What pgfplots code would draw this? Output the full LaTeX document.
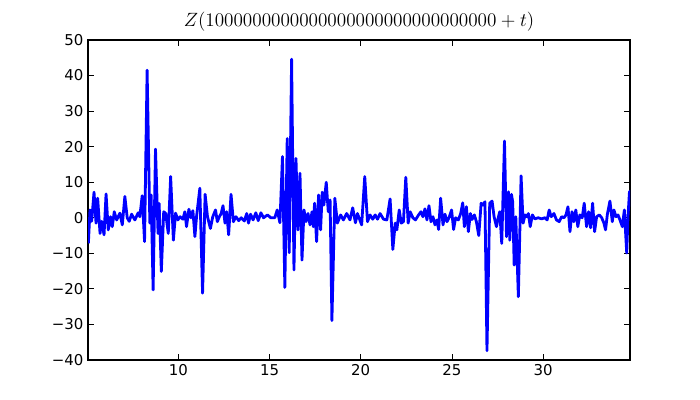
\documentclass[border=0pt]{standalone}
\usepackage{fontspec}
\setmainfont{DejaVu Sans}
\usepackage{pgfplots}
\pgfplotsset{compat=1.18}
\begin{document}
\begin{tikzpicture}
\useasboundingbox (0,0) rectangle (525pt,300pt);
\begin{axis}[
  at={(66pt,30pt)}, anchor=south west,
  scale only axis, width=406.5pt, height=240pt,
  xmin=5.05, xmax=34.76, ymin=-40, ymax=50,
  xtick={10,15,20,25,30},
  ytick={-40,-30,-20,-10,0,10,20,30,40,50},
  yticklabels={−40,−30,−20,−10,0,10,20,30,40,50},
  tick align=inside, major tick length=4.5pt,
  axis line style={line width=0.8pt},
  tick style={black, line width=0.6pt},
  ticklabel style={font=\fontsize{11.2}{13}\selectfont},
  /pgf/number format/assume math mode=true,
  title={$Z(1000000000000000000000000000000+t)$},
  title style={font=\fontsize{14.6}{16}\selectfont, yshift=-3pt},
]
\addplot[blue, line width=2.1pt, line join=round, no markers] coordinates {
(5.07,-7.2)(5.16,2.2)(5.25,-1)(5.38,7.2)(5.49,-1.5)(5.58,5.5)(5.71,-4.4)(5.8,-1)(5.93,-4.8)(6.04,6.7)(6.16,-3.4)(6.29,0.3)(6.38,-2.5)(6.49,1.7)(6.62,-0.6)(6.8,1.3)(6.93,-2)(7.07,6)(7.2,0)(7.31,-1)(7.44,1)(7.62,-0.6)(7.8,1.4)(7.89,0.3)(8.02,6.2)(8.15,-6.7)(8.29,41.5)(8.44,-1.5)(8.51,6.4)(8.62,-20.3)(8.75,19.3)(8.89,-4.4)(8.95,4)(9.07,-15.1)(9.2,1.7)(9.31,1.2)(9.45,-4.4)(9.58,11.6)(9.73,-6.3)(9.85,1.3)(9.98,-0.6)(10.1,0.3)(10.25,-0.4)(10.36,1.7)(10.45,-2.5)(10.58,2.4)(10.69,0)(10.8,2)(10.91,-5.3)(11.0,0.3)(11.18,8.3)(11.33,-21.2)(11.47,6.6)(11.6,0.3)(11.76,-3)(11.89,0.3)(12.04,2.2)(12.14,-1.1)(12.25,0.3)(12.35,1.2)(12.45,3.4)(12.56,-1.5)(12.65,1.7)(12.76,-4.8)(12.89,6.6)(13.02,-1.1)(13.16,0.3)(13.31,-0.8)(13.45,0)(13.62,-0.9)(13.75,1.2)(13.85,-1.5)(13.96,1)(14.1,-0.6)(14.25,1.4)(14.38,-0.8)(14.53,1.4)(14.67,0)(14.89,0.8)(15.07,0)
(15.29,0)(15.42,2.2)(15.57,-1.4)(15.71,17.2)(15.84,-19.6)(15.97,22.3)(16.08,-9.8)(16.21,44.6)(16.34,-14.7)(16.45,16.7)(16.56,-3.4)(16.67,12.5)(16.78,-11.9)(16.89,2.2)(17.0,-1.1)(17.11,1.2)(17.22,-2)(17.33,1.7)(17.4,-2.5)(17.47,4.1)(17.58,-6.7)(17.69,6.4)(17.8,-3.4)(17.89,7.2)(17.98,3.6)(18.11,10)(18.22,1.7)(18.32,5)(18.42,-28.9)(18.58,5.5)(18.72,-1.5)(18.9,0.8)(19.05,-0.6)(19.23,1.2)(19.41,-0.6)(19.56,2.8)(19.71,-1.4)(19.82,1.2)(20.05,-2)(20.22,11.6)(20.37,-1.1)(20.51,0.8)(20.66,-0.4)(20.79,0.8)(20.92,-0.4)(21.06,1.2)(21.25,-0.4)(21.43,-0.6)(21.61,5.3)(21.76,-8.9)(21.89,-1.5)(21.98,-3.4)(22.11,2.2)(22.22,-1.5)(22.34,-1.1)(22.47,11.4)(22.6,-1.5)(22.71,1.7)(22.86,0)(23.0,-0.6)(23.17,0.8)(23.3,1.7)(23.41,0.3)(23.52,2.5)(23.63,-0.6)(23.74,3.4)(23.85,-1.1)(23.96,0.3)(24.07,-2)(24.18,-0.6)(24.27,-3.3)(24.38,5.5)(24.51,-2)(24.62,1)(24.73,-1.1)(24.84,0)(24.98,2.2)(25.09,-3.3)(25.2,0)(25.35,-0.6)(25.48,1.2)
(25.59,4.2)(25.68,-2.5)(25.79,3.1)(25.9,-3.9)(26.01,1.2)(26.1,-0.5)(26.23,0.8)(26.34,-1.1)(26.47,-5)(26.6,4.1)(26.7,3.6)(26.81,4.5)(26.92,-37.4)(27.07,4.1)(27.2,4.7)(27.31,0.3)(27.44,-2.5)(27.55,0.3)(27.62,1.7)(27.73,-7.2)(27.88,21.6)(27.99,-5.3)(28.1,7.3)(28.17,-6.3)(28.26,6.6)(28.33,4.5)(28.41,-13.3)(28.5,0.3)(28.64,-22.2)(28.79,11.8)(28.9,-1.5)(29.01,0.8)(29.12,0.3)(29.19,1.2)(29.29,-2.5)(29.41,0.8)(29.54,-0.3)(29.73,0)(29.91,-0.3)(30.09,0)(30.22,-0.6)(30.33,2.2)(30.44,0.3)(30.59,1.2)(30.73,-0.6)(30.88,-1.1)(31.01,0.3)(31.14,0)(31.25,0.8)(31.36,3.1)(31.47,-3.9)(31.58,1.7)(31.68,-1.1)(31.79,2.2)(31.9,-2.5)(32.01,0.8)(32.14,0)(32.25,4.1)(32.38,-2.5)(32.49,1.7)(32.6,-2.8)(32.71,4.1)(32.82,-3.9)(32.93,0.3)(33.08,0.8)(33.21,0)(33.33,-1.5)(33.42,-3.4)(33.52,1)(33.66,4.7)(33.79,-1.1)(33.88,2.2)(33.99,0.3)(34.1,0.8)(34.21,-0.6)(34.34,-2.5)(34.45,2.2)(34.58,-9.9)(34.65,0.3)(34.73,7.3)(34.8,7.5)
};
\end{axis}
\end{tikzpicture}
\end{document}
